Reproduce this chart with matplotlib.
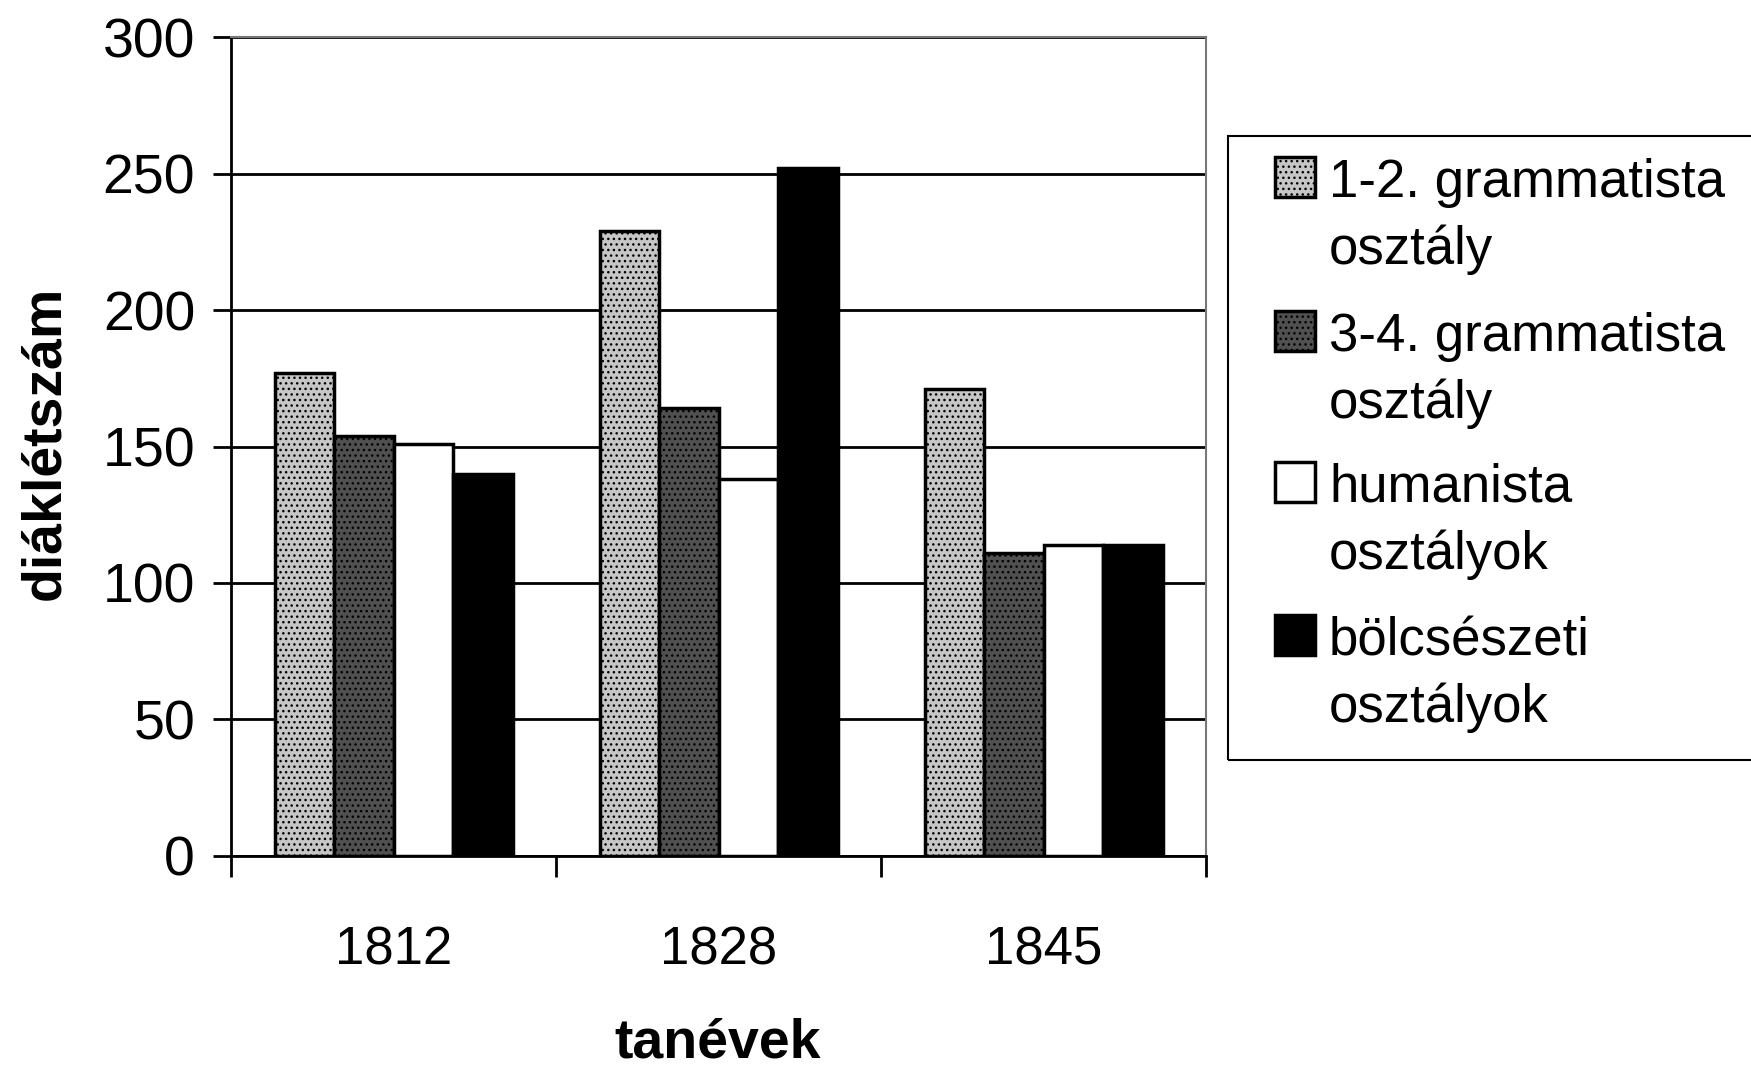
import numpy as np
import matplotlib.pyplot as plt
from matplotlib.patches import Rectangle

plt.rcParams['font.family'] = ['Liberation Sans', 'DejaVu Sans']
plt.rcParams['hatch.linewidth'] = 1.0

# data
years = ['1812', '1828', '1845']
labels = ['1-2. grammatista\nosztály', '3-4. grammatista\nosztály',
          'humanista\nosztályok', 'bölcsészeti\nosztályok']
gram_12 = [177, 229, 171]
gram_34 = [154, 164, 111]
humanista = [151, 138, 114]
bolcseszeti = [140, 252, 114]
yticks = [0, 50, 100, 150, 200, 250, 300]

series = [gram_12, gram_34, humanista, bolcseszeti]
colors = ['#c6c6c6', '#505050', 'white', 'black']
hatches = ['...', '...', None, None]

W, H = 1751, 1067
fig = plt.figure(figsize=(W / 100, H / 100), dpi=100)
ax = fig.add_axes([0.132, 0.198, 0.557, 0.767])

x = np.arange(len(years))
w = 0.183
for i, vals in enumerate(series):
    ax.bar(x + (i - 1.5) * w, vals, w, color=colors[i], edgecolor='black',
           lw=2.5, hatch=hatches[i], zorder=3)

ax.set_xlim(-0.5, 2.5)
ax.set_ylim(0, 300)
ax.set_yticks(yticks)
ax.set_xticks(x)
ax.set_xticklabels(years)
ax.set_xticks([-0.5, 0.5, 1.5, 2.5], minor=True)
ax.tick_params(axis='y', direction='out', length=13, width=2, pad=13, labelsize=40)
ax.tick_params(axis='x', which='major', length=0, pad=50, labelsize=38)
ax.tick_params(axis='x', which='minor', direction='out', length=15, width=2)

ax.yaxis.grid(True, color='black', lw=2)
ax.set_axisbelow(True)
for s in ['left', 'bottom']:
    ax.spines[s].set_linewidth(2)
for s in ['top', 'right']:
    ax.spines[s].set_color('#777777')
    ax.spines[s].set_linewidth(1.5)

fig.text(0.41, 1 - 1044 / H, 'tanévek', ha='center', va='center',
         fontsize=40, fontweight='bold')
fig.text(45 / W, 1 - 443 / H, 'diáklétszám', ha='center', va='center',
         rotation=90, fontsize=40, fontweight='bold')

# legend box drawn by hand so the swatch sits on the first text line
fig.patches.append(Rectangle((1228 / W, 1 - 760 / H), 560 / W, 624 / H,
                             transform=fig.transFigure, fill=False,
                             edgecolor='black', lw=1.5))
first_base = [197, 351, 502, 655]
for i, lab in enumerate(labels):
    b = first_base[i]
    fig.patches.append(Rectangle((1275 / W, 1 - b / H), 40 / W, 40 / H,
                                 transform=fig.transFigure, facecolor=colors[i],
                                 edgecolor='black', lw=2.5, hatch=hatches[i]))
    for j, line in enumerate(lab.split('\n')):
        fig.text(1329 / W, 1 - (b + 67 * j) / H, line, ha='left', va='baseline',
                 fontsize=38)

fig.savefig('out.png', dpi=100)
